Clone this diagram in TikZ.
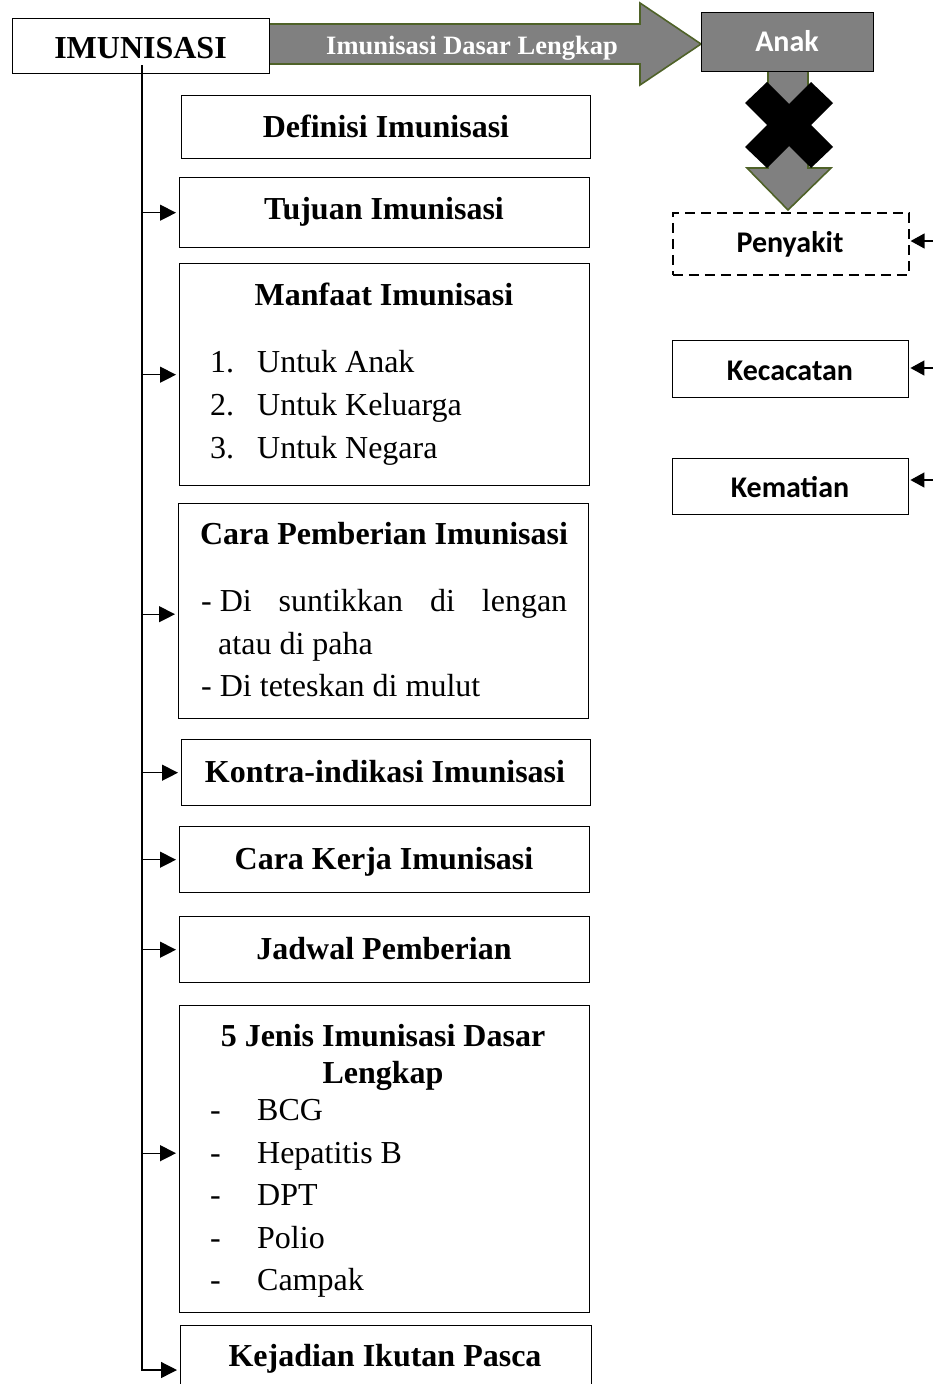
\documentclass[tikz,border=0pt]{standalone}
\usepackage{fontspec}
\setmainfont{Liberation Serif}
\newfontfamily\calib{Carlito}
\usetikzlibrary{arrows.meta}
\definecolor{olivegreen}{HTML}{4F6228}
\definecolor{midgray}{HTML}{808080}
\begin{document}
\begin{tikzpicture}[x=1pt,y=-1pt,
  box/.style={draw=black,line width=1.4pt,fill=white,inner sep=0pt,anchor=north west},
  dbox/.style={box,dash pattern=on 10pt off 6pt,line width=1.6pt},
  titl/.style={font=\fontsize{32}{36}\selectfont\bfseries,inner sep=0pt,anchor=base},
  itm/.style={font=\fontsize{32}{36}\selectfont,inner sep=0pt,anchor=base west},
  rtxt/.style={font=\calib\fontsize{30}{34}\selectfont\bfseries,inner sep=0pt,anchor=base},
  bigarrow/.style={fill=midgray,draw=olivegreen,line width=1.6pt,line join=miter},
  trunk/.style={draw=black,line width=1.3pt},
  arr/.style={trunk,-{Triangle[length=16pt,width=16pt]},shorten >=3pt},
  rarr/.style={trunk,-{Triangle[length=14pt,width=15pt]},shorten >=1pt}]
\useasboundingbox (0,0) rectangle (932,1384);
% top arrow
\draw[bigarrow] (269,24) -- (640,24) -- (640,3) -- (701,44) -- (640,85) -- (640,64) -- (269,64) -- cycle;
\node[font=\fontsize{26.5}{30}\selectfont\bfseries,text=white,inner sep=0pt,anchor=base] (tidl) at (472,54) {Imunisasi Dasar Lengkap};
% IMUNISASI
\node[box,minimum width=257,minimum height=55] (imun) at (12,18) {};
\node[titl] (timun) at (140.5,58) {IMUNISASI};
% down arrow and X
\draw[bigarrow] (768,71) -- (808,71) -- (808,168) -- (831,168) -- (788,210) -- (747,168) -- (768,168) -- cycle;
\node[box,fill=midgray,minimum width=172,minimum height=59] (anak) at (701,12) {};
\node[rtxt,text=white] (tanak) at (787,51) {Anak};
\fill[black] (745,103) -- (767,82) -- (789,104) -- (811,82) -- (833,103) -- (811,125) -- (833,147) -- (811,168) -- (789,146) -- (767,168) -- (745,147) -- (767,125) -- cycle;
% right boxes
\node[dbox,minimum width=236,minimum height=62] (pen) at (672,212) {};
\node[rtxt] (tpen) at (790,252) {Penyakit};
\node[box,minimum width=236,minimum height=57] (kec) at (672,340) {};
\node[rtxt] (tkec) at (790,380) {Kecacatan};
\node[box,minimum width=236,minimum height=56] (kem) at (672,458) {};
\node[rtxt] (tkem) at (790,497) {Kematian};
\coordinate (r1) at (934,241);
\coordinate (r2) at (934,368);
\coordinate (r3) at (934,480);
\draw[rarr] (r1) -- (r1 -| pen.east);
\draw[rarr] (r2) -- (r2 -| kec.east);
\draw[rarr] (r3) -- (r3 -| kem.east);
% left column boxes
\node[box,minimum width=409,minimum height=63] (def) at (181,95) {};
\node[titl] (tdef) at (386,137) {Definisi Imunisasi};
\node[box,minimum width=410,minimum height=70] (tuj) at (179,177) {};
\node[titl] (ttuj) at (384,219) {Tujuan Imunisasi};
\node[box,minimum width=410,minimum height=222] (man) at (179,263) {};
\node[titl] (tman) at (384,305) {Manfaat Imunisasi};
\node[itm] (m1) at (210,372) {\makebox[47pt][l]{1.}Untuk Anak};
\node[itm] (m2) at (210,415) {\makebox[47pt][l]{2.}Untuk Keluarga};
\node[itm] (m3) at (210,458) {\makebox[47pt][l]{3.}Untuk Negara};
\node[box,minimum width=410,minimum height=215] (cara) at (178,503) {};
\node[titl] (tcara) at (384,544) {Cara Pemberian Imunisasi};
\node[itm] (c1) at (201,611) {\makebox[366pt][l]{- Di\hfill suntikkan\hfill di\hfill lengan}};
\node[itm] (c2) at (218,654) {atau di paha};
\node[itm] (c3) at (201,696) {- Di teteskan di mulut};
\node[box,minimum width=409,minimum height=66] (kon) at (181,739) {};
\node[titl] (tkon) at (385,782) {Kontra-indikasi Imunisasi};
\node[box,minimum width=410,minimum height=66] (ker) at (179,826) {};
\node[titl] (tker) at (384,869) {Cara Kerja Imunisasi};
\node[box,minimum width=410,minimum height=66] (jad) at (179,916) {};
\node[titl] (tjad) at (384,959) {Jadwal Pemberian};
\node[box,minimum width=410,minimum height=307] (jen) at (179,1005) {};
\node[titl] (tjen1) at (383,1046) {5 Jenis Imunisasi Dasar};
\node[titl] (tjen2) at (383,1083) {Lengkap};
\node[itm] (j1) at (210,1120) {\makebox[47pt][l]{-}BCG};
\node[itm] (j2) at (210,1163) {\makebox[47pt][l]{-}Hepatitis B};
\node[itm] (j3) at (210,1205) {\makebox[47pt][l]{-}DPT};
\node[itm] (j4) at (210,1248) {\makebox[47pt][l]{-}Polio};
\node[itm] (j5) at (210,1290) {\makebox[47pt][l]{-}Campak};
\node[box,minimum width=411,minimum height=100] (kej) at (180,1325) {};
\node[titl] (tkej) at (385,1366) {Kejadian Ikutan Pasca};
% trunk and branches
\coordinate (t0) at (142,65);
\coordinate (t1) at (142,1370);
\draw[arr] (t0) -- (t1) -- (t1 -| kej.west);
\draw[arr] (tuj.west -| t0) -- (tuj.west);
\draw[arr] (man.west -| t0) -- (man.west);
\draw[arr] ([yshift=-3pt]cara.west -| t0) -- ([yshift=-3pt]cara.west);
\draw[arr] (kon.west -| t0) -- (kon.west);
\draw[arr] (ker.west -| t0) -- (ker.west);
\draw[arr] (jad.west -| t0) -- (jad.west);
\draw[arr] ([yshift=6pt]jen.west -| t0) -- ([yshift=6pt]jen.west);
\end{tikzpicture}
\end{document}
